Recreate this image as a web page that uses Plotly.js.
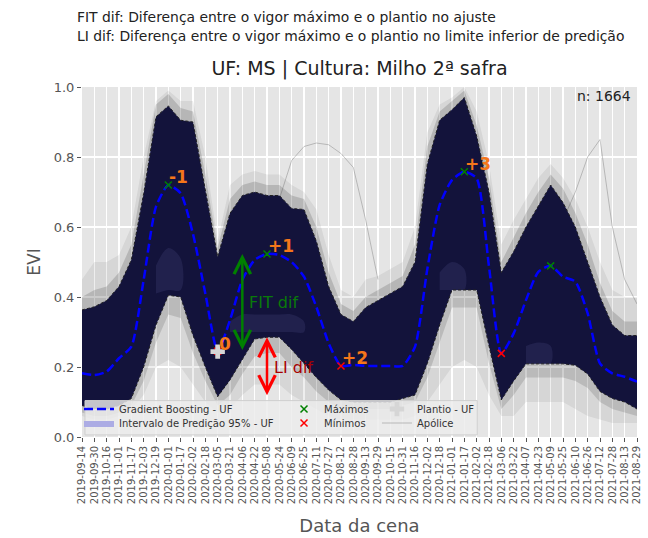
<!DOCTYPE html>
<html>
<head>
<meta charset="utf-8">
<script src="https://cdn.plot.ly/plotly-3.0.1.min.js"></script>
<style>html,body{margin:0;padding:0;background:#fff;}#chart{width:648px;height:538px;}</style>
</head>
<body>
<div id="chart"></div>
<script>
// ---- data ----
const dates = ['2019-09-14','2019-09-30','2019-10-16','2019-11-01','2019-11-17','2019-12-03','2019-12-19',
  '2020-01-01','2020-01-17','2020-02-02','2020-02-18','2020-03-05','2020-03-21','2020-04-06','2020-04-22',
  '2020-05-08','2020-05-24','2020-06-09','2020-06-25','2020-07-11','2020-07-27','2020-08-12','2020-08-28',
  '2020-09-13','2020-09-29','2020-10-15','2020-10-31','2020-11-16','2020-12-02','2020-12-18','2021-01-01',
  '2021-01-17','2021-02-02','2021-02-18','2021-03-06','2021-03-22','2021-04-07','2021-04-23','2021-05-09',
  '2021-05-25','2021-06-10','2021-06-26','2021-07-12','2021-07-28','2021-08-13','2021-08-29'];

// Gradient Boosting - UF fit
const fitUF = [0.182,0.177,0.187,0.225,0.258,0.449,0.658,0.720,0.696,0.580,0.410,0.245,0.334,0.449,0.506,
  0.523,0.520,0.500,0.458,0.372,0.268,0.203,0.206,0.203,0.203,0.203,0.203,0.258,0.480,0.663,0.734,0.758,
  0.739,0.487,0.239,0.296,0.391,0.472,0.489,0.458,0.444,0.353,0.210,0.182,0.172,0.158];

// 95% prediction interval
const piUpper = [0.363,0.372,0.390,0.430,0.506,0.696,0.915,0.946,0.905,0.900,0.706,0.515,0.639,0.690,0.700,
  0.690,0.690,0.653,0.650,0.560,0.430,0.350,0.330,0.370,0.390,0.410,0.430,0.500,0.780,0.905,0.935,0.970,
  0.860,0.700,0.470,0.530,0.600,0.660,0.720,0.670,0.600,0.500,0.400,0.320,0.290,0.290];
const piLower = [0.090,0.080,0.080,0.090,0.110,0.200,0.320,0.405,0.400,0.290,0.200,0.115,0.163,0.220,0.280,
  0.285,0.285,0.250,0.210,0.170,0.134,0.106,0.100,0.100,0.100,0.100,0.110,0.120,0.210,0.320,0.420,0.420,
  0.420,0.260,0.106,0.160,0.209,0.209,0.209,0.209,0.205,0.180,0.130,0.110,0.100,0.080];

// spread of the individual policy (Apólice) curves
const apoliceMax = [0.450,0.500,0.500,0.520,0.600,0.800,0.960,0.990,0.960,0.960,0.800,0.560,0.720,0.750,0.760,
  0.750,0.750,0.720,0.700,0.650,0.520,0.420,0.400,0.450,0.460,0.480,0.500,0.600,0.870,0.950,0.970,1.000,
  0.930,0.780,0.550,0.620,0.680,0.740,0.780,0.740,0.680,0.600,0.500,0.420,0.400,0.400];
const apoliceMin = [0.060,0.050,0.050,0.060,0.080,0.120,0.200,0.220,0.200,0.150,0.100,0.070,0.080,0.120,0.150,
  0.150,0.150,0.120,0.100,0.080,0.060,0.050,0.050,0.050,0.050,0.050,0.050,0.060,0.100,0.150,0.200,0.220,
  0.200,0.120,0.060,0.060,0.100,0.100,0.100,0.100,0.080,0.060,0.050,0.040,0.040,0.040];
// where the policy curves crowd just outside the interval
const denseUpper = [0.400,0.420,0.430,0.470,0.550,0.750,0.950,0.980,0.940,0.930,0.750,0.540,0.680,0.720,0.730,
  0.720,0.720,0.690,0.680,0.600,0.470,0.380,0.360,0.400,0.420,0.440,0.460,0.550,0.830,0.930,0.960,0.990,
  0.890,0.740,0.500,0.570,0.640,0.700,0.750,0.710,0.640,0.550,0.440,0.360,0.330,0.330];
const denseLower = [0.070,0.060,0.060,0.070,0.090,0.160,0.270,0.350,0.340,0.240,0.160,0.090,0.120,0.180,0.230,
  0.240,0.240,0.200,0.170,0.130,0.100,0.080,0.080,0.080,0.080,0.080,0.090,0.100,0.170,0.270,0.370,0.370,
  0.370,0.210,0.080,0.120,0.170,0.170,0.170,0.170,0.160,0.140,0.100,0.080,0.070,0.060];
// lighter (sparser) pockets inside the interval
const sparseLow = [null,null,null,null,null,null,0.410,0.420,0.420,null,null,null,0.300,0.300,0.300,
  0.300,0.300,0.300,0.300,null,null,null,null,null,null,null,null,null,null,0.420,0.420,0.420,
  null,null,null,null,0.210,0.210,0.210,null,null,null,null,null,null,null];
const sparseHigh = [null,null,null,null,null,null,0.490,0.540,0.510,null,null,null,0.330,0.350,0.350,
  0.350,0.350,0.350,0.330,null,null,null,null,null,null,null,null,null,null,0.470,0.500,0.480,
  null,null,null,null,0.260,0.270,0.260,null,null,null,null,null,null,null];
// two outlying policy curves visible above the crowd
const apoliceA = [null,null,null,null,null,null,null,null,null,null,null,null,null,null,0.560,
  0.600,0.680,0.790,0.830,0.840,0.835,0.810,0.770,0.620,0.450,null,null,null,null,null,null,null,
  null,null,null,null,null,null,null,null,null,null,null,null,null,null];
const apoliceB = [null,null,null,null,null,null,null,null,null,null,null,null,null,null,null,
  null,null,null,null,null,null,null,null,null,null,null,null,null,null,null,null,null,
  null,null,null,null,null,null,null,0.620,0.700,0.800,0.850,0.600,0.450,0.380];

// extremes and planting
const maxIdx = [7, 15, 31, 38];
const minIdx = [11, 21, 34];
const plantioIdx = [11];
const plantioVal = [0.244];
const cycleLabels = ['-1', '0', '+1', '+2', '+3'];
const cycleIdx = [7, 11, 15, 21, 31];
const nPolicies = 1664;

// ---- build chart ----
const F = 'DejaVu Sans, sans-serif';
const maxVal = maxIdx.map(i => fitUF[i]);
const minVal = minIdx.map(i => fitUF[i]);
const hidden = {width: 0, color: 'rgba(0,0,0,0)'};
const traces = [];
function band(lo, hi, color, extra) {
  traces.push({x: dates, y: lo, mode: 'lines', line: hidden, showlegend: false, hoverinfo: 'skip'});
  traces.push(Object.assign({x: dates, y: hi, mode: 'lines', fill: 'tonexty', fillcolor: color, line: hidden, showlegend: false, hoverinfo: 'skip'}, extra || {}));
}
// haze of policy curves
band(apoliceMin, apoliceMax, 'rgba(40,40,40,0.08)');
band(piUpper, denseUpper, 'rgba(20,20,20,0.16)');
band(denseLower, piLower, 'rgba(20,20,20,0.14)');
// outliers
traces.push({x: dates, y: apoliceA, mode: 'lines', line: {width: 0.8, color: 'rgba(60,60,60,0.35)'}, showlegend: false, hoverinfo: 'skip'});
traces.push({x: dates, y: apoliceB, mode: 'lines', line: {width: 0.8, color: 'rgba(60,60,60,0.35)'}, showlegend: false, hoverinfo: 'skip'});
// prediction interval (legend patch colour)
band(piLower, piUpper, 'rgb(172,172,228)', {name: 'Intervalo de Predição 95% - UF', legend: 'legend2', showlegend: true});
// dense policy curves inside the interval
band(piLower, piUpper, 'rgba(2,2,40,0.9)');
// sparse pockets, one patch per contiguous run
let runs = [], cur = null;
sparseLow.forEach((v, i) => {
  if (v !== null) { if (!cur) { cur = []; runs.push(cur); } cur.push(i); } else cur = null;
});
runs.forEach(r => {
  const xs = r.map(i => dates[i]).concat(r.slice().reverse().map(i => dates[i]));
  const ys = r.map(i => sparseHigh[i]).concat(r.slice().reverse().map(i => sparseLow[i]));
  traces.push({x: xs, y: ys, mode: 'lines', fill: 'toself', fillcolor: 'rgba(120,120,190,0.14)', line: {width: 0, color: 'rgba(0,0,0,0)', shape: 'spline'},
    showlegend: false, hoverinfo: 'skip'});
});
// interval edges
traces.push({x: dates, y: piUpper, mode: 'lines', line: {width: 1, color: '#222', dash: '3px,2px'}, showlegend: false, hoverinfo: 'skip'});
traces.push({x: dates, y: piLower, mode: 'lines', line: {width: 1, color: '#222', dash: '3px,2px'}, showlegend: false, hoverinfo: 'skip'});
// Apólice legend entry
traces.push({x: [null], y: [null], mode: 'lines', line: {width: 1, color: 'rgba(90,90,90,0.35)'}, name: 'Apólice', legend: 'legend6'});
// fit
traces.push({x: dates, y: fitUF, mode: 'lines', line: {width: 2.5, color: '#0000ff', dash: '9px,4px', shape: 'spline', smoothing: 0.6},
  name: 'Gradient Boosting - UF', legend: 'legend'});
// extremes
traces.push({x: maxIdx.map(i => dates[i]), y: maxVal, mode: 'markers', marker: {symbol: 'x-thin', size: 7, line: {width: 1.5, color: '#008000'}, color: '#008000'},
  name: 'Máximos', legend: 'legend3'});
traces.push({x: minIdx.map(i => dates[i]), y: minVal, mode: 'markers', marker: {symbol: 'x-thin', size: 7, line: {width: 1.5, color: '#ff0000'}, color: '#ff0000'},
  name: 'Mínimos', legend: 'legend4'});
traces.push({x: plantioIdx.map(i => dates[i]), y: plantioVal, mode: 'markers', marker: {symbol: 'cross', size: 12, color: '#d6d6d6', line: {width: 0}},
  name: 'Plantio - UF', legend: 'legend5'});

// annotations
const ann = [];
cycleLabels.forEach((t, k) => {
  const i = cycleIdx[k];
  const yv = (t === '0') ? plantioVal[0] : fitUF[i];
  ann.push({x: i, y: yv, xref: 'x', yref: 'y', text: '<b>' + t + '</b>', showarrow: false, xanchor: 'left', yanchor: 'bottom',
    xshift: -1, yshift: -4, font: {family: F, size: 17, color: '#f5761a'}});
});
// FIT dif arrow (planting -> max of the season)
const fitX = (plantioIdx[0] + maxIdx[1]) / 2;
ann.push({x: fitX, y: fitUF[maxIdx[1]], ax: fitX, ay: plantioVal[0], xref: 'x', yref: 'y', axref: 'x', ayref: 'y',
  text: '', showarrow: true, arrowside: 'end+start', arrowhead: 5, startarrowhead: 5, arrowsize: 1.3, startarrowsize: 1.3, arrowwidth: 2.5,
  arrowcolor: '#008000', standoff: 0, startstandoff: 0});
ann.push({x: fitX, y: (fitUF[maxIdx[1]] + plantioVal[0]) / 2, xref: 'x', yref: 'y', text: 'FIT dif', showarrow: false,
  xanchor: 'left', yanchor: 'middle', xshift: 5, font: {family: F, size: 16, color: '#0a7a0a'}});
// LI dif arrow
const liX = maxIdx[1];
ann.push({x: liX, y: piLower[maxIdx[1]], ax: liX, ay: piLower[plantioIdx[0]], xref: 'x', yref: 'y', axref: 'x', ayref: 'y',
  text: '', showarrow: true, arrowside: 'end+start', arrowhead: 5, startarrowhead: 5, arrowsize: 1.3, startarrowsize: 1.3, arrowwidth: 2.5,
  arrowcolor: '#ff0000', standoff: 0, startstandoff: 0});
ann.push({x: liX, y: (piLower[maxIdx[1]] + piLower[plantioIdx[0]]) / 2, xref: 'x', yref: 'y', text: 'LI dif', showarrow: false,
  xanchor: 'left', yanchor: 'middle', xshift: 5, font: {family: F, size: 16, color: '#a80000'}});
// n
ann.push({x: 0.993, y: 0.974, xref: 'paper', yref: 'paper', text: 'n: ' + nPolicies, showarrow: false, xanchor: 'right', yanchor: 'middle',
  font: {family: F, size: 14, color: '#222'}});
// header notes
ann.push({x: -0.0126, y: 1.20, xref: 'paper', yref: 'paper', text: 'FIT dif: Diferença entre o vigor máximo e o plantio no ajuste',
  showarrow: false, xanchor: 'left', yanchor: 'middle', font: {family: F, size: 13.9, color: '#222'}});
ann.push({x: -0.0126, y: 1.146, xref: 'paper', yref: 'paper', text: 'LI dif: Diferença entre o vigor máximo e o plantio no limite inferior de predição',
  showarrow: false, xanchor: 'left', yanchor: 'middle', font: {family: F, size: 13.9, color: '#222'}});

const legBase = {bgcolor: 'rgba(0,0,0,0)', borderwidth: 0, font: {family: F, size: 10, color: '#333'}, xanchor: 'left', yanchor: 'middle', itemwidth: 30};
const layout = {
  width: 648, height: 538,
  margin: {l: 82, r: 11, t: 87, b: 101, pad: 0},
  paper_bgcolor: '#ffffff', plot_bgcolor: '#e5e5e5',
  font: {family: F, color: '#555'},
  title: {text: 'UF: MS | Cultura: Milho 2ª safra', font: {family: F, size: 19, color: '#222'}, x: 0.5, xref: 'paper', y: 1 - 68/538, yref: 'container', yanchor: 'middle'},
  xaxis: {type: 'category', range: [0, dates.length - 1], tickangle: -90, tickfont: {family: F, size: 10, color: '#555'},
    showgrid: true, gridcolor: '#ffffff', gridwidth: 1.2, ticks: 'outside', ticklen: 4, tickcolor: '#555', zeroline: false, showline: false,
    title: {text: 'Data da cena', font: {family: F, size: 18, color: '#555'}, standoff: 16}},
  yaxis: {range: [0, 1], dtick: 0.2, tickformat: '.1f', tickfont: {family: F, size: 13, color: '#555'},
    showgrid: true, gridcolor: '#ffffff', gridwidth: 1.5, ticks: 'outside', ticklen: 4, tickcolor: '#555', zeroline: false, showline: false,
    title: {text: 'EVI', font: {family: F, size: 17, color: '#555'}, standoff: 8}},
  legend:  Object.assign({}, legBase, {x: -0.0054, y: 0.080}),
  legend2: Object.assign({}, legBase, {x: -0.0054, y: 0.040}),
  legend3: Object.assign({}, legBase, {x: 0.364, y: 0.080}),
  legend4: Object.assign({}, legBase, {x: 0.364, y: 0.040}),
  legend5: Object.assign({}, legBase, {x: 0.5315, y: 0.080}),
  legend6: Object.assign({}, legBase, {x: 0.5315, y: 0.040}),
  shapes: [{type: 'rect', xref: 'paper', yref: 'paper', x0: 0.0054, x1: 0.712, y0: 0.006, y1: 0.104,
    fillcolor: 'rgba(236,236,236,0.82)', line: {color: '#cfcfcf', width: 1}, layer: 'above'}],
  annotations: ann,
  showlegend: true
};
Plotly.newPlot('chart', traces, layout, {displayModeBar: false, staticPlot: true});
</script>
</body>
</html>
